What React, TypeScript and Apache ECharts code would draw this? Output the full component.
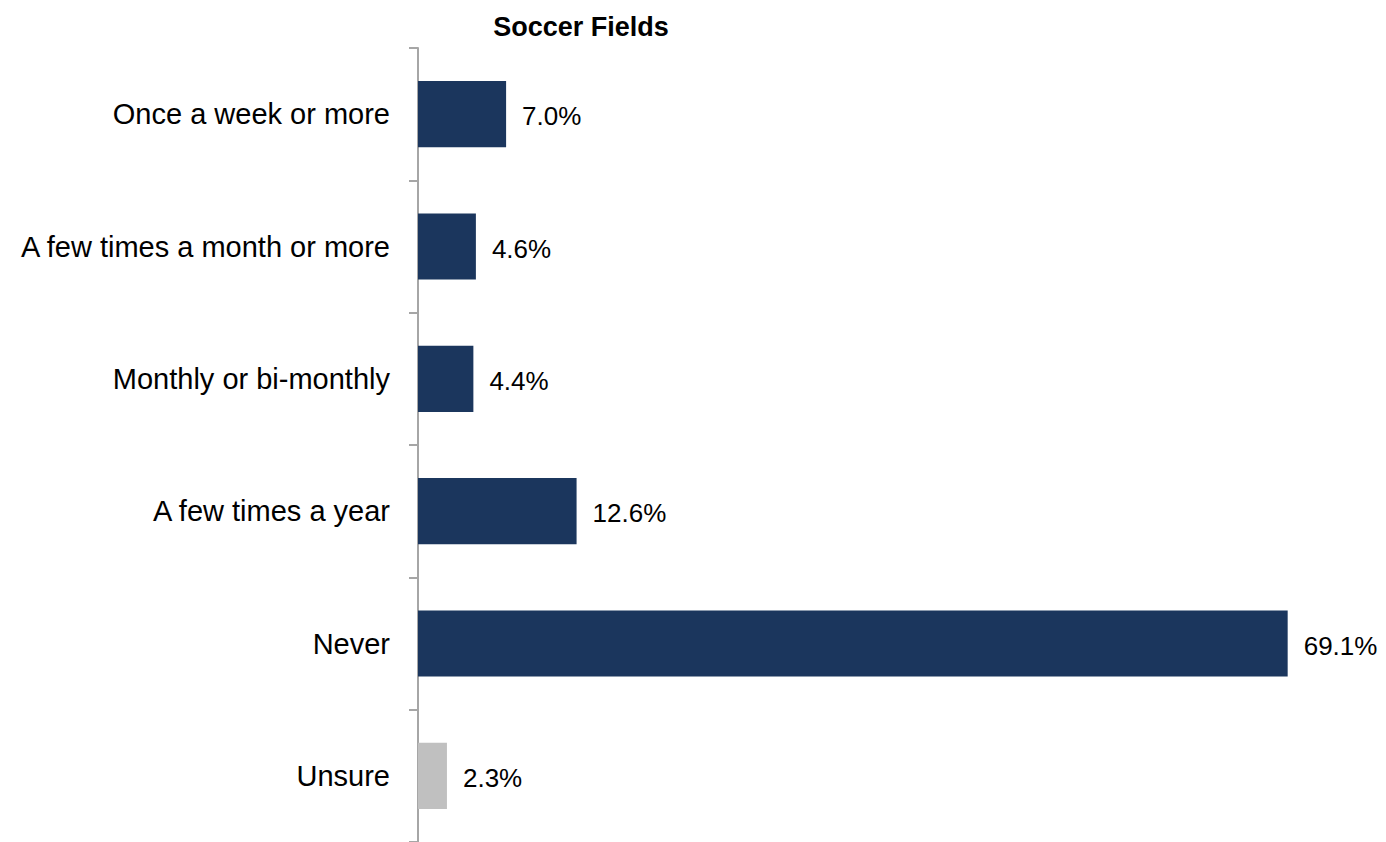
import React, { useEffect, useRef } from "react";
import * as echarts from "echarts";

const categories = [
  "Once a week or more",
  "A few times a month or more",
  "Monthly or bi-monthly",
  "A few times a year",
  "Never",
  "Unsure",
];
const values = [7.0, 4.6, 4.4, 12.6, 69.1, 2.3];
const barColors = ["#1B365D", "#1B365D", "#1B365D", "#1B365D", "#1B365D", "#C0C0C0"];
const titleText = "Soccer Fields";

export default function App() {
  const ref = useRef<HTMLDivElement>(null);
  useEffect(() => {
    if (!ref.current) return;
    const chart = echarts.init(ref.current, undefined, { renderer: "svg" });
    chart.setOption({
      animation: false,
      backgroundColor: "#ffffff",
      title: {
        text: titleText,
        left: 576,
        top: 8,
        textAlign: "center",
        textStyle: {
          fontFamily: "Liberation Sans, Arial, sans-serif",
          fontWeight: "bold",
          fontSize: 27,
          color: "#000",
        },
      },
      grid: { left: 418, top: 48, width: 881, height: 796 },
      xAxis: {
        type: "value",
        min: 0,
        max: 70,
        show: false,
      },
      yAxis: {
        type: "category",
        inverse: true,
        data: categories,
        axisLine: { show: true, lineStyle: { color: "#A6A6A6", width: 2 } },
        axisTick: { show: true, length: 9, lineStyle: { color: "#A6A6A6", width: 2 } },
        axisLabel: {
          margin: 28,
          padding: [4, 0, 0, 0],
          fontFamily: "Liberation Sans, Arial, sans-serif",
          fontSize: 29,
          color: "#000",
        },
        splitLine: { show: false },
      },
      series: [
        {
          type: "bar",
          barWidth: "50%",
          data: values.map((v, i) => ({ value: v, itemStyle: { color: barColors[i] } })),
          label: {
            show: true,
            position: "right",
            distance: 16,
            offset: [0, 2],
            formatter: (p: any) => p.value.toFixed(1) + "%",
            fontFamily: "Liberation Sans, Arial, sans-serif",
            fontSize: 26,
            color: "#000",
          },
        },
      ],
    });
    return () => chart.dispose();
  }, []);
  return (
    <div
      ref={ref}
      style={{ position: "absolute", left: 0, top: 0, width: 1386, height: 842 }}
    />
  );
}
